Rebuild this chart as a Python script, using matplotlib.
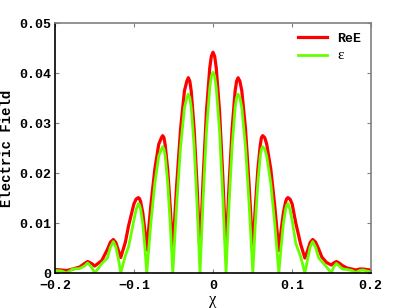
import numpy as np
import matplotlib
matplotlib.use("Agg")
import matplotlib.pyplot as plt

# --- data ---
x = [
    -0.2000, -0.1920, -0.1855, -0.1780, -0.1690, -0.1630, -0.1590, -0.1540,
    -0.1500, -0.1410, -0.1340, -0.1300, -0.1264, -0.1232, -0.1200, -0.1170,
    -0.1111, -0.1070, -0.1004, -0.0975, -0.0947, -0.0932, -0.0918, -0.0890,
    -0.0865, -0.0840, -0.0790, -0.0738, -0.0688, -0.0654, -0.0638, -0.0622,
    -0.0606, -0.0574, -0.0542, -0.0510, -0.0461, -0.0411, -0.0362, -0.0332,
    -0.0313, -0.0294, -0.0276, -0.0239, -0.0202, -0.0165, -0.0124, -0.0083,
    -0.0041, -0.0021, 0.0000,
    0.0021, 0.0041, 0.0083, 0.0124, 0.0165, 0.0203, 0.0242, 0.0280,
    0.0299, 0.0318, 0.0341, 0.0365, 0.0412, 0.0458, 0.0505, 0.0536,
    0.0568, 0.0599, 0.0614, 0.0630, 0.0656, 0.0681, 0.0733, 0.0784,
    0.0835, 0.0864, 0.0892, 0.0921, 0.0936, 0.0950, 0.0977, 0.1004,
    0.1050, 0.1111, 0.1165, 0.1200, 0.1232, 0.1264, 0.1300, 0.1340,
    0.1380, 0.1440, 0.1500, 0.1530, 0.1565, 0.1600, 0.1640, 0.1700,
    0.1760, 0.1810, 0.1860, 0.1900, 0.1950, 0.2000,
]
re_e = [
    0.0007, 0.0006, 0.0005, 0.0008, 0.0012, 0.0019, 0.0023, 0.0019,
    0.0014, 0.0025, 0.0047, 0.0062, 0.0067, 0.0061, 0.0045, 0.0031,
    0.0062, 0.0095, 0.0138, 0.0148, 0.0151, 0.0149, 0.0143, 0.0120,
    0.0086, 0.0046, 0.0133, 0.0208, 0.0258, 0.0271, 0.0275, 0.0271,
    0.0256, 0.0206, 0.0131, 0.0043, 0.0176, 0.0289, 0.0365, 0.0384,
    0.0391, 0.0384, 0.0364, 0.0288, 0.0174, 0.0039, 0.0194, 0.0324,
    0.0411, 0.0434, 0.0442,
    0.0434, 0.0411, 0.0324, 0.0194, 0.0040, 0.0174, 0.0288, 0.0364,
    0.0384, 0.0391, 0.0384, 0.0365, 0.0289, 0.0176, 0.0043, 0.0131,
    0.0206, 0.0256, 0.0271, 0.0275, 0.0271, 0.0258, 0.0208, 0.0133,
    0.0045, 0.0086, 0.0120, 0.0143, 0.0149, 0.0151, 0.0148, 0.0138,
    0.0100, 0.0058, 0.0030, 0.0045, 0.0061, 0.0067, 0.0062, 0.0048,
    0.0032, 0.0021, 0.0016, 0.0020, 0.0023, 0.0020, 0.0015, 0.0010,
    0.0008, 0.0006, 0.0008, 0.0008, 0.0007, 0.0006,
]
eps = [
    0.0005, 0.0004, 0.0000, 0.0008, 0.0009, 0.0014, 0.0020, 0.0012,
    0.0000, 0.0019, 0.0030, 0.0052, 0.0063, 0.0052, 0.0028, 0.0000,
    0.0035, 0.0053, 0.0105, 0.0127, 0.0139, 0.0136, 0.0128, 0.0098,
    0.0053, 0.0000, 0.0097, 0.0179, 0.0234, 0.0248, 0.0253, 0.0248,
    0.0234, 0.0179, 0.0097, 0.0000, 0.0137, 0.0253, 0.0331, 0.0351,
    0.0358, 0.0351, 0.0331, 0.0253, 0.0137, 0.0000, 0.0154, 0.0284,
    0.0371, 0.0394, 0.0402,
    0.0394, 0.0371, 0.0284, 0.0154, 0.0000, 0.0137, 0.0253, 0.0331,
    0.0351, 0.0358, 0.0351, 0.0331, 0.0253, 0.0137, 0.0000, 0.0097,
    0.0179, 0.0234, 0.0248, 0.0253, 0.0248, 0.0234, 0.0179, 0.0097,
    0.0000, 0.0053, 0.0098, 0.0128, 0.0136, 0.0139, 0.0127, 0.0105,
    0.0059, 0.0033, 0.0000, 0.0028, 0.0052, 0.0063, 0.0052, 0.0030,
    0.0023, 0.0012, 0.0000, 0.0012, 0.0019, 0.0014, 0.0008, 0.0007,
    0.0005, 0.0001, 0.0005, 0.0006, 0.0004, 0.0002,
]
xticks = [-0.2, -0.1, 0.0, 0.1, 0.2]
xtick_labels = ["\u22120.2", "\u22120.1", "0", "0.1", "0.2"]
yticks = [0.0, 0.01, 0.02, 0.03, 0.04, 0.05]
ytick_labels = ["0", "0.01", "0.02", "0.03", "0.04", "0.05"]

mono = ["Liberation Mono", "DejaVu Sans Mono"]
serif = ["Liberation Serif", "DejaVu Serif"]

fig = plt.figure(figsize=(4.09, 3.08), dpi=100)
ax = fig.add_axes([0.1352, 0.1136, 0.7712, 0.8108])

ax.plot(x, re_e, color="#ff0000", lw=2.3, label="ReE")
ax.plot(x, eps, color="#66ff00", lw=2.0, label="\u03b5")

ax.set_xlim(-0.2, 0.2)
ax.set_ylim(0, 0.05)
ax.set_xticks(xticks)
ax.set_xticklabels(xtick_labels)
ax.set_yticks(yticks)
ax.set_yticklabels(ytick_labels)

for lab in ax.get_xticklabels() + ax.get_yticklabels():
    lab.set_family(mono)
    lab.set_fontweight("bold")
    lab.set_fontsize(9.5)

ax.tick_params(direction="in", length=3, width=0.8, color="#808080",
               top=True, right=True)
ax.tick_params(axis="x", pad=5)
ax.tick_params(axis="y", pad=3)

for side in ["top", "right"]:
    ax.spines[side].set_color("#808080")
for side in ["left", "bottom"]:
    ax.spines[side].set_color("#000000")
for s in ax.spines.values():
    s.set_linewidth(1.2)

ax.set_ylabel("Electric Field", family=mono, fontweight="bold", fontsize=10,
              labelpad=4)
ax.set_xlabel("\u03c7", family=serif, fontsize=12, labelpad=0)

leg = ax.legend(loc="upper right", frameon=False, handlelength=2.2,
                borderaxespad=0.3, labelspacing=0.35,
                prop={"family": mono, "weight": "bold", "size": 9.5})
eps_text = leg.get_texts()[1]
eps_text.set_family(serif)
eps_text.set_fontweight("normal")
eps_text.set_fontsize(11)

fig.savefig("out.png", dpi=100)
